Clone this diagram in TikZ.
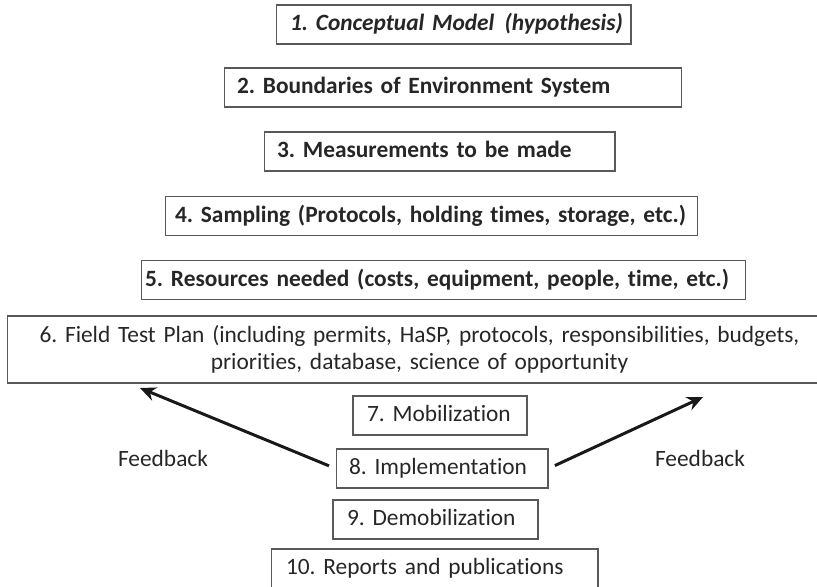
\documentclass[tikz,border=0pt]{standalone}
\usepackage{fontspec}
\setmainfont{Carlito}[Ligatures=NoCommon]
\usetikzlibrary{arrows.meta}
\frenchspacing

\newcommand\stagesize{\fontsize{13.3}{15.6}\selectfont}

\begin{document}
\begin{tikzpicture}[x=0.02cm,y=-0.02cm,
stage/.style={draw=black!65,line width=0.6pt,text=black!85,font=\stagesize,
  align=left,inner xsep=0pt,inner ysep=0pt,minimum height=0.78cm,
  text height=9pt,text depth=2pt},
key/.style={stage,font=\stagesize\bfseries},
indent/.style={execute at begin node={\hspace*{#1}}},
feedback/.style={-{Stealth[length=9pt,width=8pt]},line width=1.7pt,black!90,shorten <=4pt}]
\useasboundingbox (0,0) rectangle (817,586);
% planning steps
\node[key,font=\stagesize\bfseries\itshape,text width=7.1cm,indent=0.28cm] (model) at (453.5,24.5) {1. Conceptual Model\hspace{0.1em} (hypothesis)};
\node[key,text width=9.16cm,indent=0.26cm] (bounds) at (453,87.5) {2. Boundaries of Environment System};
\node[key,text width=7.02cm,indent=0.26cm] (measure) at (439.5,151.5) {3. Measurements to be made};
\node[key,text width=10.66cm,indent=0.2cm] (sampling) at (431.5,216) {4. Sampling (Protocols, holding times, storage, etc.)};
\node[key,text width=12.1cm,indent=0.08cm] (resources) at (443.5,280) {5. Resources needed (costs, equipment, people, time, etc.)};
\node[stage,align=center,text width=16.5cm,minimum height=1.34cm,text height=,text depth=] (plan) at (419.5,349.5)
  {6. Field Test Plan (including permits, HaSP, protocols, responsibilities, budgets,\\ priorities, database, science of opportunity};
% field steps
\node[stage,text width=3.48cm,indent=0.28cm] (mob) at (440,415.5) {7. Mobilization};
\node[stage,text width=4.24cm,indent=0.26cm] (impl) at (442,468.5) {8. Implementation};
\node[stage,text width=4.1cm,indent=0.28cm] (demob) at (435.5,519.5) {9. Demobilization};
\node[stage,text width=6.54cm,indent=0.3cm] (reports) at (434.5,568.5) {10. Reports and publications};
% feedback loops
\coordinate (fbleft) at (140,388);
\coordinate (fbright) at (703,397);
\draw[feedback] (impl.west) -- (fbleft);
\draw[feedback] (impl.east) -- (fbright);
\node[text=black!85,font=\stagesize,anchor=base] (fbl) at (163,466.7) {Feedback};
\node[text=black!85,font=\stagesize,anchor=base] (fbr) at (700,466.7) {Feedback};
\end{tikzpicture}
\end{document}
